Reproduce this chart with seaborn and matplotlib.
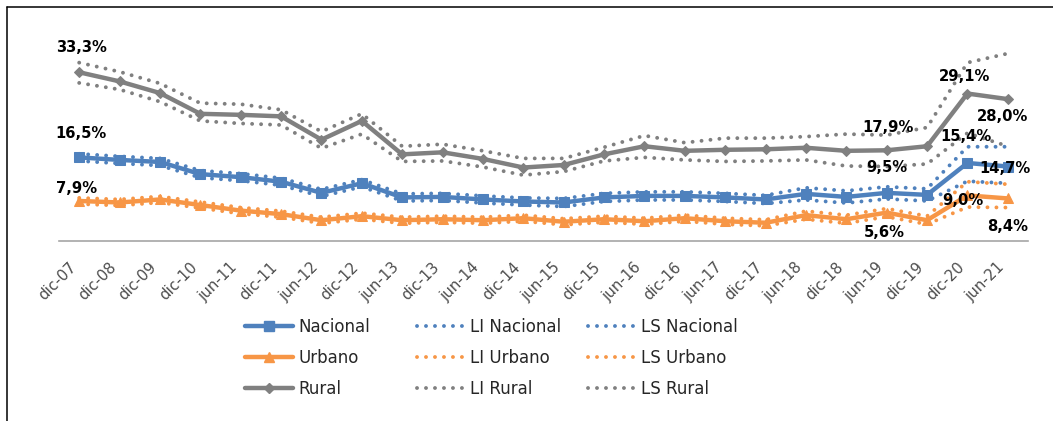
import numpy as np
import pandas as pd
import matplotlib
matplotlib.use('Agg')
import matplotlib.pyplot as plt
import matplotlib.transforms as mtransforms
from matplotlib.lines import Line2D
import seaborn as sns

# Periodos del eje x
periodos = ['dic-07', 'dic-08', 'dic-09', 'dic-10', 'jun-11', 'dic-11', 'jun-12', 'dic-12',
            'jun-13', 'dic-13', 'jun-14', 'dic-14', 'jun-15', 'dic-15', 'jun-16', 'dic-16',
            'jun-17', 'dic-17', 'jun-18', 'dic-18', 'jun-19', 'dic-19', 'dic-20', 'jun-21']

# Series (%)
nacional = [16.5, 16.0, 15.6, 13.2, 12.6, 11.7, 9.5, 11.4, 8.6, 8.7, 8.2, 7.8,
            7.6, 8.6, 8.9, 8.9, 8.6, 8.2, 9.3, 8.7, 9.5, 9.1, 15.4, 14.7]
li_nacional = [15.8, 15.3, 14.9, 12.5, 11.9, 11.0, 8.8, 10.7, 7.9, 8.0, 7.5, 7.1,
               6.8, 7.8, 8.1, 8.1, 7.8, 7.4, 8.1, 7.5, 8.3, 7.9, 11.8, 11.4]
ls_nacional = [17.2, 16.7, 16.3, 13.9, 13.3, 12.4, 10.2, 12.1, 9.3, 9.4, 8.9, 8.5,
               8.4, 9.4, 9.7, 9.7, 9.4, 9.0, 10.5, 9.9, 10.7, 10.3, 18.6, 18.6]
urbano = [7.9, 7.6, 8.2, 7.1, 6.0, 5.3, 4.1, 4.9, 4.1, 4.3, 4.1, 4.5,
          3.8, 4.3, 3.9, 4.5, 3.9, 3.6, 5.1, 4.3, 5.6, 4.1, 9.0, 8.4]
li_urbano = [7.3, 7.0, 7.6, 6.5, 5.4, 4.7, 3.5, 4.3, 3.5, 3.7, 3.5, 3.9,
             3.2, 3.7, 3.3, 3.9, 3.3, 3.0, 4.3, 3.5, 4.8, 3.3, 6.7, 6.6]
ls_urbano = [8.5, 8.2, 8.8, 7.7, 6.6, 5.9, 4.7, 5.5, 4.7, 4.9, 4.7, 5.1,
             4.4, 4.9, 4.5, 5.1, 4.5, 4.2, 5.9, 5.1, 6.4, 4.9, 11.7, 11.2]
rural = [33.3, 31.5, 29.2, 25.1, 24.9, 24.6, 20.0, 23.7, 17.1, 17.5, 16.2, 14.5,
         15.0, 17.1, 18.7, 17.8, 18.0, 18.1, 18.4, 17.8, 17.9, 18.7, 29.1, 28.0]
li_rural = [31.2, 29.9, 27.5, 23.7, 23.2, 22.9, 18.3, 21.1, 15.7, 15.8, 14.6, 13.0,
            13.7, 15.8, 16.5, 16.0, 15.7, 15.8, 16.0, 14.8, 14.7, 15.2, 21.3, 18.7]
ls_rural = [35.2, 33.4, 31.1, 27.2, 27.0, 25.9, 21.6, 25.1, 18.7, 19.1, 17.8, 16.3,
            16.3, 18.5, 20.8, 19.4, 20.3, 20.3, 20.6, 21.1, 20.9, 22.4, 35.2, 37.0]

# Etiquetas de datos: (serie, periodo, texto, dx px, dy px)
etiquetas = [
    ('rural', 'dic-07', '33,3%', 2, 25),
    ('nacional', 'dic-07', '16,5%', 2, 24),
    ('urbano', 'dic-07', '7,9%', -3, 12),
    ('rural', 'jun-19', '17,9%', 1, 23),
    ('nacional', 'jun-19', '9,5%', 0, 25),
    ('urbano', 'jun-19', '5,6%', -2, -20),
    ('rural', 'dic-20', '29,1%', -3, 17),
    ('nacional', 'dic-20', '15,4%', -1, 26),
    ('urbano', 'dic-20', '9,0%', -5, -5),
    ('rural', 'jun-21', '28,0%', -5, -17),
    ('nacional', 'jun-21', '14,7%', -3, -2),
    ('urbano', 'jun-21', '8,4%', 0, -28),
]

AZUL = '#4f81bd'
NARANJA = '#f79646'
GRIS = '#808080'

sns.set_style('white')
plt.rcParams['font.family'] = ['DejaVu Sans']

x = np.arange(len(periodos))
df = pd.DataFrame({'x': x, 'periodo': periodos,
                   'nacional': nacional, 'li_nacional': li_nacional, 'ls_nacional': ls_nacional,
                   'urbano': urbano, 'li_urbano': li_urbano, 'ls_urbano': ls_urbano,
                   'rural': rural, 'li_rural': li_rural, 'ls_rural': ls_rural})

W, H = 1053, 421
fig = plt.figure(figsize=(W / 100, H / 100), dpi=100)
px_per_pct = 5.067
ymax = 42
ax = fig.add_axes([59 / W, (H - 241) / H, 969 / W, ymax * px_per_pct / H])

punteado = dict(linestyle=(0, (0.01, 2.3)), dash_capstyle='round', lw=2.8)
series = [
    ('nacional', AZUL, 's', 7.0),
    ('urbano', NARANJA, '^', 7.5),
    ('rural', GRIS, 'D', 5.0),
]
for nombre, color, marca, ms in series:
    sns.lineplot(data=df, x='x', y=nombre, ax=ax, color=color, lw=3.2,
                 marker=marca, markersize=ms, mec=color, mfc=color, zorder=3)
    sns.lineplot(data=df, x='x', y='li_' + nombre, ax=ax, color=color, zorder=4, **punteado)
    sns.lineplot(data=df, x='x', y='ls_' + nombre, ax=ax, color=color, zorder=4, **punteado)

for serie, per, txt, dx, dy in etiquetas:
    i = periodos.index(per)
    ax.annotate(txt, (x[i], df[serie][i]), xytext=(dx, dy), textcoords='offset pixels',
                ha='center', va='center', fontsize=10.6, fontweight='bold', color='black', zorder=6)

ax.set_xlim(-0.5, len(periodos) - 0.5)
ax.set_ylim(0, ymax)
ax.set_xlabel('')
ax.set_ylabel('')
ax.set_yticks([])
for lado in ['left', 'right', 'top']:
    ax.spines[lado].set_visible(False)
ax.spines['bottom'].set_color('#a6a6a6')
ax.spines['bottom'].set_linewidth(1.2)

# marcas entre categorias, etiquetas al centro
ax.set_xticks(np.arange(-0.5, len(periodos), 1.0))
ax.set_xticklabels([])
ax.set_xticks(x, minor=True)
ax.set_xticklabels(periodos, minor=True, rotation=45, ha='right', rotation_mode='anchor',
                   fontsize=10.8, color='#4d4d4d')
ax.tick_params(axis='x', which='major', direction='out', length=4, width=1, color='#a6a6a6')
ax.tick_params(axis='x', which='minor', length=0, pad=13)
desplaz = mtransforms.ScaledTranslation(-11 / 100, 0, fig.dpi_scale_trans)
for lab in ax.get_xticklabels(minor=True):
    lab.set_transform(lab.get_transform() + desplaz)

# Leyenda en tres columnas
def solido(color, marca, ms):
    return Line2D([], [], color=color, lw=3.2, marker=marca, markersize=ms, mec=color, mfc=color)

def dotted(color):
    return Line2D([], [], color=color, **punteado)

columnas = [
    (245, [solido(AZUL, 's', 7), solido(NARANJA, '^', 7.5), solido(GRIS, 'D', 5)],
     ['Nacional', 'Urbano', 'Rural']),
    (417, [dotted(AZUL), dotted(NARANJA), dotted(GRIS)],
     ['LI Nacional', 'LI Urbano', 'LI Rural']),
    (588, [dotted(AZUL), dotted(NARANJA), dotted(GRIS)],
     ['LS Nacional', 'LS Urbano', 'LS Rural']),
]
for x0, handles, labels in columnas:
    fig.legend(handles, labels, loc='upper left', bbox_to_anchor=(x0 / W, 1 - 318 / H),
               frameon=False, borderpad=0, borderaxespad=0, numpoints=1,
               handlelength=2.9, handletextpad=0.3, labelspacing=0.78,
               prop={'size': 12}, labelcolor='#262626')

# marco recortado (izquierda y arriba)
fig.add_artist(Line2D([7 / W, 7 / W], [0, 1 - 7 / H], transform=fig.transFigure, color='black', lw=1.1))
fig.add_artist(Line2D([7 / W, 1], [1 - 7 / H, 1 - 7 / H], transform=fig.transFigure, color='black', lw=1.1))

fig.savefig('out.png', dpi=100)
